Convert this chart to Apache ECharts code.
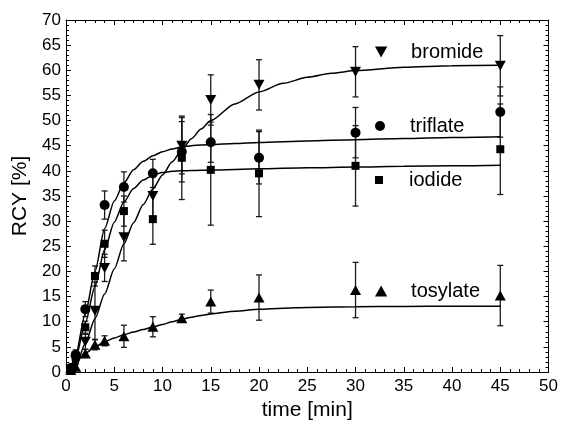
<!DOCTYPE html>
<html>
<head>
<meta charset="utf-8">
<script src="https://cdn.jsdelivr.net/npm/echarts@6/dist/echarts.min.js"></script>
<style>
  html, body { margin: 0; padding: 0; background: #fff; }
  #chart { width: 561px; height: 426px; }
</style>
</head>
<body>
<div id="chart"></div>
<script>
// measured points (time in min, RCY in %)
const bromideT = [0.5, 1, 2, 3, 4, 6, 9, 12, 15, 20, 30, 45];
const bromideV = [0.5, 2.3, 6.0, 12.2, 20.7, 26.8, 35.0, 45.0, 54.1, 57.1, 59.7, 60.9];
const bromideE = [0.3, 0.8, 1.5, 5.7, 2.7, 4.7, 5.0, 5.6, 5.0, 5.0, 5.0, 6.0];

const triflateT = [0.5, 1, 2, 4, 6, 9, 12, 15, 20, 30, 45];
const triflateV = [0.8, 3.4, 12.5, 33.2, 36.8, 39.5, 43.8, 45.7, 42.6, 47.6, 51.7];
const triflateE = [0.3, 1.0, 1.5, 2.8, 3.0, 2.8, 6.0, 4.0, 5.2, 5.0, 5.0];

const iodideT = [0.5, 1, 2, 3, 4, 6, 9, 12, 15, 20, 30, 45];
const iodideV = [0.5, 3.0, 8.9, 19.1, 25.5, 32.0, 30.4, 42.6, 40.2, 39.5, 41.0, 44.3];
const iodideE = [0.3, 1.0, 1.2, 2.0, 2.7, 3.0, 5.0, 8.3, 11.0, 8.6, 8.0, 9.0];

const tosylateT = [0.5, 1, 2, 3, 4, 6, 9, 12, 15, 20, 30, 45];
const tosylateV = [0.4, 1.06, 3.7, 5.4, 6.2, 7.1, 9.0, 10.7, 14.0, 14.8, 16.3, 15.2];
const tosylateE = [0.2, 0.5, 0.8, 1.0, 1.0, 2.2, 2.0, 0.8, 2.3, 4.5, 5.5, 6.0];

// fitted curves
const bromideFitT = [0.8, 1, 2, 3, 4, 5, 6, 7, 8, 9, 10, 11, 12, 13, 14, 15, 17.5, 20, 22.5, 25, 27.5, 30, 35, 40, 45];
const bromideFitV = [0, 0.9, 5.7, 10.6, 15.5, 20.5, 25.5, 29.7, 33.3, 36.4, 39.2, 41.8, 44.2, 46.4, 48.3, 50.0, 53.3, 55.7, 57.4, 58.6, 59.4, 59.95, 60.6, 60.9, 61.0];
const triflateFitT = [0.4, 1, 2, 3, 4, 5, 6, 7, 8, 9, 10, 11, 12, 13, 14, 15, 17.5, 20, 25, 30, 35, 40, 45];
const triflateFitV = [0, 3.4, 11.7, 20, 28.5, 34, 37.6, 40.2, 41.9, 43.0, 43.8, 44.35, 44.75, 45.0, 45.15, 45.25, 45.45, 45.65, 45.95, 46.2, 46.45, 46.65, 46.8];
const iodideFitT = [0.4, 1, 2, 3, 4, 5, 6, 7, 8, 9, 10, 11, 12, 13, 14, 15, 20, 25, 30, 35, 40, 45];
const iodideFitV = [0, 2.8, 9.8, 17, 24.3, 29.8, 33.8, 36.5, 38.2, 39.15, 39.65, 39.9, 40.02, 40.07, 40.12, 40.17, 40.4, 40.6, 40.75, 40.9, 41.0, 41.1];
const tosylateFitT = [0.3, 1, 2, 3, 4, 5, 6, 7, 8, 9, 10, 11, 12, 13, 14, 15, 17.5, 20, 22.5, 25, 30, 35, 40, 45];
const tosylateFitV = [0, 2.0, 3.7, 5.0, 6.0, 6.75, 7.4, 7.95, 8.45, 8.95, 9.45, 10.0, 10.5, 10.9, 11.25, 11.55, 12.1, 12.5, 12.7, 12.85, 13.0, 13.05, 13.1, 13.1];

const xTicks = [0, 50, 5];
const yTicks = [0, 70, 5];

const FONT = "'Liberation Sans', Arial, sans-serif";

const pathDown = 'path://M0,0 L10,0 L5,9 Z';
const pathUp = 'path://M5,0 L10,9 L0,9 Z';
const pathCircle = 'path://M5,0 A5,5 0 1,1 4.99,0 Z';
const pathSquare = 'path://M0,0 L10,0 L10,10 L0,10 Z';

function pairs(t, v) {
  return t.map((x, i) => [x, v[i]]);
}
function errs(t, v, e) {
  return t.map((x, i) => [x, v[i] - e[i], v[i] + e[i]]);
}

function errorSeries(data) {
  return {
    type: 'custom',
    data: data,
    z: 2,
    silent: true,
    renderItem: function (params, api) {
      const x = api.value(0);
      const top = api.coord([x, api.value(2)]);
      const bot = api.coord([x, api.value(1)]);
      const w = 3;
      const st = { stroke: '#1a1a1a', lineWidth: 1.3 };
      return {
        type: 'group',
        children: [
          { type: 'line', shape: { x1: top[0], y1: top[1], x2: bot[0], y2: bot[1] }, style: st },
          { type: 'line', shape: { x1: top[0] - w, y1: top[1], x2: top[0] + w, y2: top[1] }, style: st },
          { type: 'line', shape: { x1: bot[0] - w, y1: bot[1], x2: bot[0] + w, y2: bot[1] }, style: st }
        ]
      };
    }
  };
}

function fitSeries(data) {
  return {
    type: 'line',
    data: data,
    showSymbol: false,
    smooth: 0.25,
    smoothMonotone: 'x',
    z: 3,
    silent: true,
    lineStyle: { color: '#000', width: 1.5 }
  };
}

function pointSeries(name, data, symbol, size) {
  return {
    name: name,
    type: 'scatter',
    data: data,
    symbol: symbol,
    symbolSize: size,
    z: 4,
    itemStyle: { color: '#000', opacity: 1 }
  };
}

function legendAt(name, top, icon, size) {
  return {
    data: [name],
    left: 370,
    top: top,
    orient: 'vertical',
    icon: icon,
    itemWidth: 50,
    itemHeight: size,
    symbolKeepAspect: true,
    selectedMode: false,
    textStyle: { fontFamily: FONT, fontSize: 20, color: '#000' }
  };
}

const axisCommon = {
  type: 'value',
  axisLine: { show: true, onZero: false, lineStyle: { color: '#000', width: 1 } },
  axisTick: { show: true, inside: true, length: 5, lineStyle: { color: '#000' } },
  minorTick: { show: true, splitNumber: 5, length: 3, lineStyle: { color: '#000' } },
  splitLine: { show: false },
  minorSplitLine: { show: false }
};

const chart = echarts.init(document.getElementById('chart'));
chart.setOption({
  backgroundColor: '#fff',
  animation: false,
  grid: { left: 66, right: 11, top: 20, bottom: 54 },
  legend: [
    legendAt('bromide', 37, pathDown, 11),
    legendAt('triflate', 111, pathCircle, 10),
    legendAt('iodide', 165, pathSquare, 8),
    legendAt('tosylate', 276, pathUp, 11)
  ],
  xAxis: [
    Object.assign({}, axisCommon, {
      position: 'bottom',
      min: xTicks[0], max: xTicks[1], interval: xTicks[2],
      name: 'time [min]',
      nameLocation: 'middle',
      nameGap: 28,
      nameTextStyle: { fontFamily: FONT, fontSize: 21, color: '#000' },
      axisLabel: { fontFamily: FONT, fontSize: 17, color: '#000', margin: 6 }
    }),
    Object.assign({}, axisCommon, {
      position: 'top',
      min: xTicks[0], max: xTicks[1], interval: xTicks[2],
      axisLabel: { show: false }
    })
  ],
  yAxis: [
    Object.assign({}, axisCommon, {
      position: 'left',
      min: yTicks[0], max: yTicks[1], interval: yTicks[2],
      name: 'RCY [%]',
      nameLocation: 'middle',
      nameGap: 31,
      nameTextStyle: { fontFamily: FONT, fontSize: 21, color: '#000' },
      axisLabel: { fontFamily: FONT, fontSize: 17, color: '#000', margin: 5 }
    }),
    Object.assign({}, axisCommon, {
      position: 'right',
      min: yTicks[0], max: yTicks[1], interval: yTicks[2],
      axisLabel: { show: false }
    })
  ],
  series: [
    errorSeries(errs(bromideT, bromideV, bromideE)),
    errorSeries(errs(triflateT, triflateV, triflateE)),
    errorSeries(errs(iodideT, iodideV, iodideE)),
    errorSeries(errs(tosylateT, tosylateV, tosylateE)),
    fitSeries(pairs(bromideFitT, bromideFitV)),
    fitSeries(pairs(triflateFitT, triflateFitV)),
    fitSeries(pairs(iodideFitT, iodideFitV)),
    fitSeries(pairs(tosylateFitT, tosylateFitV)),
    pointSeries('bromide', pairs(bromideT, bromideV), pathDown, [11, 10]),
    pointSeries('triflate', pairs(triflateT, triflateV), 'circle', 10),
    pointSeries('iodide', pairs(iodideT, iodideV), 'rect', 8),
    pointSeries('tosylate', pairs(tosylateT, tosylateV), pathUp, [11, 10])
  ]
});
</script>
</body>
</html>
